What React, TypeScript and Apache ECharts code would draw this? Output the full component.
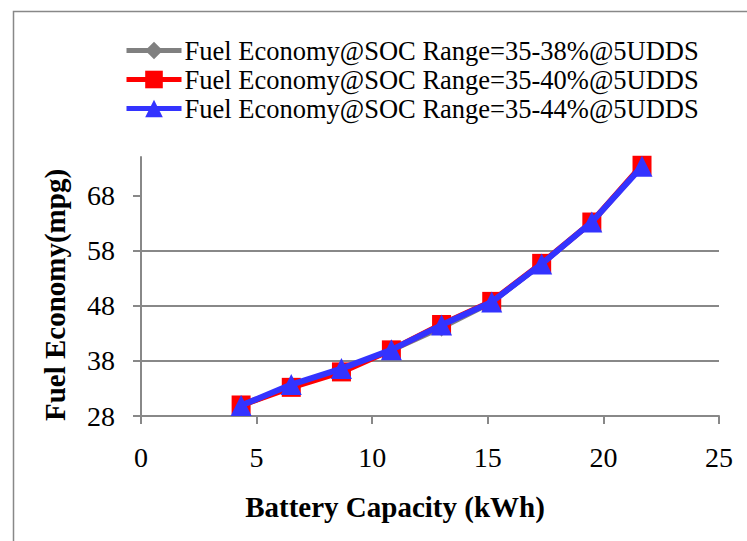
import React, { useEffect, useRef } from "react";
import * as echarts from "echarts";

const capacity = [4.33, 6.5, 8.67, 10.83, 13, 15.17, 17.33, 19.5, 21.67];
const soc38 = [29.8, 33.4, 36.3, 39.9, 44.0, 48.6, 55.6, 63.2, 73.4];
const soc40 = [30.0, 33.2, 36.0, 40.0, 44.6, 48.8, 55.7, 63.2, 73.5];
const soc44 = [29.9, 33.7, 36.6, 40.0, 44.5, 48.7, 55.6, 63.2, 73.3];
const yTicks = [28, 38, 48, 58, 68];
const seriesNames = [
  "Fuel Economy@SOC Range=35-38%@5UDDS",
  "Fuel Economy@SOC Range=35-40%@5UDDS",
  "Fuel Economy@SOC Range=35-44%@5UDDS",
];

const FONT = "'Liberation Serif', 'Times New Roman', serif";
const GRAY = "#888888";

export default function App() {
  const ref = useRef<HTMLDivElement>(null);
  useEffect(() => {
    if (!ref.current) return;
    const chart = echarts.init(ref.current, undefined, { renderer: "svg" });
    const pair = (ys: number[]) => capacity.map((x, i) => [x, ys[i]]);
    chart.setOption({
      animation: false,
      backgroundColor: "#ffffff",
      textStyle: { fontFamily: FONT },
      grid: { left: 141, right: 28, top: 157, bottom: 125 },
      legend: {
        orient: "vertical",
        left: 124,
        top: 37,
        padding: 0,
        itemWidth: 55,
        itemHeight: 22,
        itemGap: 2,
        lineStyle: { width: 5 },
        textStyle: { fontFamily: FONT, fontSize: 26.5, color: "#000", padding: [0, 0, 0, -2] },
        data: seriesNames,
      },
      xAxis: {
        type: "value",
        min: 0,
        max: 25,
        interval: 5,
        axisLine: { show: true, lineStyle: { color: GRAY, width: 2 } },
        axisTick: { show: true, inside: false, length: 8, lineStyle: { color: GRAY, width: 2 } },
        axisLabel: { fontFamily: FONT, fontSize: 28, color: "#000", margin: 27 },
        splitLine: { show: false },
      },
      yAxis: {
        type: "value",
        min: 28,
        max: 75,
        interval: 10,
        axisLine: { show: true, lineStyle: { color: GRAY, width: 2 } },
        axisTick: {
          show: true,
          inside: false,
          length: 8,
          lineStyle: { color: GRAY, width: 2 },
          customValues: yTicks,
        },
        axisLabel: { fontFamily: FONT, fontSize: 28, color: "#000", margin: 26, customValues: yTicks },
        splitLine: { show: true, showMaxLine: false, lineStyle: { color: GRAY, width: 2 } },
      },
      graphic: [
        {
          type: "rect",
          left: 11,
          top: 9,
          shape: { width: 800, height: 600 },
          style: { fill: "none", stroke: GRAY, lineWidth: 1.5 },
          z: -10,
          silent: true,
        },
        {
          type: "text",
          x: 395,
          y: 507,
          style: {
            text: "Battery Capacity (kWh)",
            font: `bold 29px ${FONT}`,
            fill: "#000",
            align: "center",
            verticalAlign: "middle",
          },
        },
        {
          type: "text",
          x: 55,
          y: 295,
          rotation: Math.PI / 2,
          style: {
            text: "Fuel Economy(mpg)",
            font: `bold 29px ${FONT}`,
            fill: "#000",
            align: "center",
            verticalAlign: "middle",
          },
        },
      ],
      series: [
        {
          name: seriesNames[0],
          type: "line",
          z: 2,
          data: pair(soc38),
          symbol: "diamond",
          symbolSize: [14, 18],
          itemStyle: { color: "#808080" },
          lineStyle: { color: "#808080", width: 5 },
        },
        {
          name: seriesNames[1],
          type: "line",
          z: 3,
          data: pair(soc40),
          symbol: "rect",
          symbolSize: 19,
          itemStyle: { color: "#ff0000" },
          lineStyle: { color: "#ff0000", width: 6 },
        },
        {
          name: seriesNames[2],
          type: "line",
          z: 4,
          data: pair(soc44),
          symbol: "triangle",
          symbolSize: 21,
          itemStyle: { color: "#3333ff" },
          lineStyle: { color: "#3333ff", width: 6 },
        },
      ],
    });
    return () => chart.dispose();
  }, []);
  return (
    <div
      ref={ref}
      style={{ position: "fixed", left: 0, top: 0, width: 747, height: 541 }}
    />
  );
}
